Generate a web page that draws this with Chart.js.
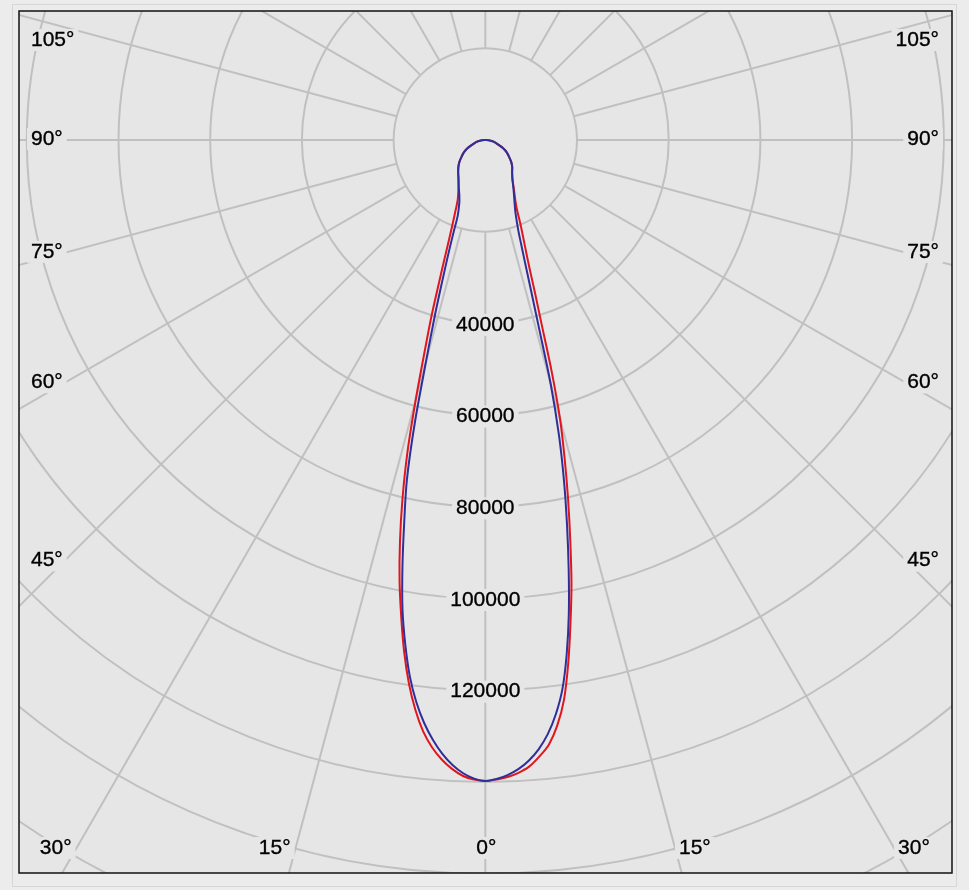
<!DOCTYPE html>
<html>
<head>
<meta charset="utf-8">
<script src="https://cdn.jsdelivr.net/npm/chart.js@4.4.1/dist/chart.umd.min.js"></script>
<style>
  html, body { margin: 0; padding: 0; background: #ececec; overflow: hidden; }
  canvas { display: block; }
</style>
</head>
<body>
<canvas id="polarChart" width="969" height="890"></canvas>
<script>
// Gamma angles (degrees from nadir) and luminous intensity
const gammaAngles = [0, 1, 2, 3, 4, 5, 6, 7, 8, 9, 10, 11, 12, 13, 14, 15, 16, 17, 18, 19, 20,
    22.5, 25, 30, 35, 40, 45, 50, 55, 60, 65, 70, 75, 80, 85, 90];

// red curve, left and right half
const redLeft = [139800, 139500, 138800, 137400, 135500, 133000, 129700, 125200, 119700, 113100, 105600,
    98000, 89500, 80300, 70200, 58600, 48000, 40100, 32600, 27200, 23100,
    17300, 14200, 11700, 10200, 9200, 8300, 7350, 6300, 5400, 4300, 3100, 2350, 1600, 750, 0];
const redRight = [139800, 139500, 139000, 138200, 137000, 135000, 132600, 128700, 123300, 115600, 107000,
    98500, 89100, 80200, 71500, 63000, 52500, 42000, 35100, 29700, 26100,
    20200, 16000, 12500, 10300, 9100, 8300, 7350, 6300, 5400, 4300, 3100, 2350, 1600, 750, 0];

// blue curve, left and right half
const blueLeft = [139800, 139300, 138200, 136500, 134200, 131300, 127800, 123500, 118200, 111500, 104000,
    94700, 85000, 76000, 63500, 49800, 40100, 31900, 26000, 21200, 17600,
    14800, 13400, 11600, 10200, 9200, 8300, 7350, 6300, 5400, 4300, 3100, 2350, 1600, 750, 0];
const blueRight = [139800, 139400, 138600, 137400, 135700, 133400, 130300, 126200, 120900, 113500, 104900,
    95300, 85700, 76300, 66500, 55100, 42000, 33600, 27900, 24000, 21100,
    17200, 15100, 12300, 10300, 9100, 8300, 7350, 6300, 5400, 4300, 3100, 2350, 1600, 750, 0];

// grid
const ringValues = [20000, 40000, 60000, 80000, 100000, 120000, 140000, 160000, 180000, 200000, 220000];
const ringLabels = [40000, 60000, 80000, 100000, 120000];
const sideAngleLabels = [45, 60, 75, 90, 105];
const bottomAngleLabels = [30, 15, 0];
const spokeStep = 15;

const PLOT_BG = '#e6e6e6';
const GRID = '#c0c0c0';
const FONT = '21px "Liberation Sans", Arial, sans-serif';

// pixel geometry of the plot frame
const frame = { left: 19, top: 11, right: 952, bottom: 873 };
const centerPx = { x: 485.3, y: 140 };
const pxPerUnit = 91.7 / 20000;

const rad = d => d * Math.PI / 180;

// polar -> cartesian (0 deg points down, left half negative x)
function halfCurve(values, side) {
    return gammaAngles.map((g, i) => ({
        x: side * values[i] * Math.sin(rad(g)),
        y: -values[i] * Math.cos(rad(g))
    }));
}
function curve(left, right) {
    return halfCurve(left, -1).reverse().concat(halfCurve(right, 1).slice(1));
}

const panelPlugin = {
    id: 'panel',
    beforeDraw(chart) {
        const ctx = chart.ctx;
        ctx.save();
        ctx.fillStyle = '#ececec';
        ctx.fillRect(0, 0, chart.width, chart.height);
        ctx.strokeStyle = '#d6d6d6';
        ctx.lineWidth = 1;
        ctx.strokeRect(12.5, 4.5, 944, 882);
        ctx.restore();
    }
};

function labelBox(ctx, text, x, y, align) {
    const w = ctx.measureText(text).width;
    let bx = x;
    if (align === 'center') bx = x - w / 2;
    if (align === 'right') bx = x - w;
    ctx.fillStyle = PLOT_BG;
    ctx.fillRect(bx - 4, y - 11, w + 8, 22);
    ctx.fillStyle = '#000';
    ctx.strokeStyle = '#000';
    ctx.lineWidth = 0.35;
    ctx.textAlign = align;
    ctx.fillText(text, x, y);
    ctx.strokeText(text, x, y);
}

const polarGrid = {
    id: 'polarGrid',
    beforeDatasetsDraw(chart) {
        const { ctx, chartArea: a, scales: { x, y } } = chart;
        const cx = x.getPixelForValue(0), cy = y.getPixelForValue(0);
        const pt = (v, g) => ({
            x: x.getPixelForValue(v * Math.sin(rad(g))),
            y: y.getPixelForValue(-v * Math.cos(rad(g)))
        });
        ctx.save();
        ctx.fillStyle = PLOT_BG;
        ctx.fillRect(a.left, a.top, a.width, a.height);
        ctx.beginPath();
        ctx.rect(a.left, a.top, a.width, a.height);
        ctx.clip();

        ctx.strokeStyle = GRID;
        ctx.lineWidth = 2;
        ringValues.forEach(v => {
            const r = x.getPixelForValue(v) - cx;
            ctx.beginPath();
            ctx.arc(cx, cy, r, 0, Math.PI * 2);
            ctx.stroke();
        });
        const rMax = ringValues[ringValues.length - 1];
        for (let g = 0; g < 360; g += spokeStep) {
            const p0 = pt(ringValues[0], g), p1 = pt(rMax, g);
            ctx.beginPath();
            ctx.moveTo(p0.x, p0.y);
            ctx.lineTo(p1.x, p1.y);
            ctx.stroke();
        }

        ctx.font = FONT;
        ctx.textBaseline = 'middle';

        // intensity labels along nadir
        ringLabels.forEach(v => {
            labelBox(ctx, String(v), cx, y.getPixelForValue(-v) + 1.5, 'center');
        });

        // angle labels on the sides
        sideAngleLabels.forEach(g => {
            const t = Math.tan(rad(90 - g));
            [-1, 1].forEach(side => {
                const edgeX = side < 0 ? a.left + 45 : a.right - 45;
                let ly = cy + Math.abs(edgeX - cx) * t - 1;
                ly = Math.max(ly, a.top + 29);
                const tx = side < 0 ? a.left + 12 : a.right - 13;
                labelBox(ctx, g + '°', tx, ly, side < 0 ? 'left' : 'right');
            });
        });

        // angle labels along the bottom
        const by = a.bottom - 25;
        bottomAngleLabels.forEach(g => {
            const dx = (by - cy) * Math.tan(rad(g));
            if (g === 0) {
                labelBox(ctx, '0°', cx + 1, by, 'center');
            } else {
                labelBox(ctx, g + '°', cx - dx - 5, by, 'right');
                labelBox(ctx, g + '°', cx + dx + 4, by, 'left');
            }
        });
        ctx.restore();
    }
};

const framePlugin = {
    id: 'frame',
    afterDatasetsDraw(chart) {
        const { ctx, chartArea: a } = chart;
        ctx.save();
        ctx.strokeStyle = '#111';
        ctx.lineWidth = 1.5;
        ctx.strokeRect(a.left, a.top, a.width, a.height);
        ctx.restore();
    }
};

const ctx = document.getElementById('polarChart').getContext('2d');

const polarChart = new Chart(ctx, {
    type: 'scatter',
    data: {
        datasets: [{
            label: 'C90-C270',
            data: curve(blueLeft, blueRight),
            borderColor: '#2f2f9c',
            borderWidth: 2,
            showLine: true,
            pointRadius: 0,
            tension: 0.3,
            fill: false
        }, {
            label: 'C0-C180',
            data: curve(redLeft, redRight),
            borderColor: '#e0161e',
            borderWidth: 2,
            showLine: true,
            pointRadius: 0,
            tension: 0.3,
            fill: false
        }]
    },
    options: {
        responsive: false,
        animation: false,
        events: [],
        layout: {
            padding: { left: frame.left, top: frame.top, right: 969 - frame.right, bottom: 890 - frame.bottom }
        },
        scales: {
            x: {
                type: 'linear',
                display: false,
                min: -(centerPx.x - frame.left) / pxPerUnit,
                max: (frame.right - centerPx.x) / pxPerUnit
            },
            y: {
                type: 'linear',
                display: false,
                min: -(frame.bottom - centerPx.y) / pxPerUnit,
                max: (centerPx.y - frame.top) / pxPerUnit
            }
        },
        plugins: {
            legend: { display: false },
            tooltip: { enabled: false }
        }
    },
    plugins: [panelPlugin, polarGrid, framePlugin]
});
</script>
</body>
</html>
